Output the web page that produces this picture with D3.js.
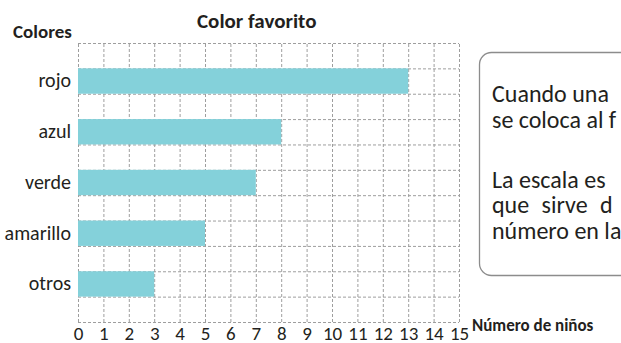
<!DOCTYPE html>
<html>
<head>
<meta charset="utf-8">
<script src="https://cdn.jsdelivr.net/npm/d3@7"></script>
<style>
    body { margin: 0; background: #fff; }
    text { font-family: Carlito, "Liberation Sans Narrow", sans-serif; fill: #231f20; }
    .grid line { stroke: #9e9e9e; stroke-width: 1; stroke-dasharray: 3,2; }
    .grid path { display: none; }
    .bar { fill: #84d1da; }
    .title, .axis-title { font-weight: bold; }
</style>
</head>
<body>
<div id="color-chart"></div>
<script>
// data
var categories = ["rojo", "azul", "verde", "amarillo", "otros"];
var values = [13, 8, 7, 5, 3];
var tickValues = d3.range(0, 16);
var chartTitle = "Color favorito";
var yTitle = "Colores";
var xTitle = "Número de niños";
var noteParagraphs = [
    ["Cuando una", "se coloca al f"],
    ["La escala es", "que sirve d", "número en la"]
];

/**
 * Constructor for the favourite colour chart
 */
function ColorChart(){
    var self = this;
    self.init();
};

/**
 * Creates the svg and the scales
 */
ColorChart.prototype.init = function(){
    var self = this;
    self.margin = {top: 43, right: 162, bottom: 21, left: 78};
    self.svgWidth = 621;
    self.svgHeight = 343;
    self.width = self.svgWidth - self.margin.left - self.margin.right;
    self.height = self.svgHeight - self.margin.top - self.margin.bottom;

    self.svg = d3.select("#color-chart").append("svg")
        .attr("width", self.svgWidth)
        .attr("height", self.svgHeight);

    self.g = self.svg.append("g")
        .attr("transform", "translate(" + self.margin.left + "," + self.margin.top + ")");

    self.x = d3.scaleLinear()
        .domain([0, 15])
        .range([0, self.width]);

    // each bar sits on one grid row, with an empty row between bars
    self.y = d3.scaleBand()
        .domain(categories)
        .range([0, self.height])
        .paddingInner(0.5)
        .paddingOuter(0.5);

    // the grid rows are half a band step each
    self.rows = d3.scaleLinear()
        .domain([0, categories.length * 2 + 1])
        .range([0, self.height]);
};

/**
 * Draws grid, bars, labels and the note box
 */
ColorChart.prototype.update = function(){
    var self = this;

    //dashed grid
    self.g.append("g")
        .attr("class", "grid")
        .attr("transform", "translate(0," + self.height + ")")
        .call(d3.axisBottom(self.x).tickValues(tickValues).tickSize(-self.height).tickFormat(""));

    self.g.append("g")
        .attr("class", "grid")
        .call(d3.axisLeft(self.rows).ticks(categories.length * 2 + 1).tickSize(-self.width).tickFormat(""));

    //bars
    self.g.selectAll(".bar")
        .data(values)
        .enter().append("rect")
        .attr("class", "bar")
        .attr("x", self.x(0))
        .attr("y", function(d, i){ return self.y(categories[i]); })
        .attr("width", function(d){ return self.x(d) - self.x(0); })
        .attr("height", self.y.bandwidth());

    //x tick labels
    var xAxis = self.g.append("g")
        .attr("transform", "translate(0," + self.height + ")")
        .call(d3.axisBottom(self.x).tickValues(tickValues).tickSize(0).tickPadding(5));
    xAxis.select(".domain").remove();
    xAxis.selectAll("text")
        .attr("fill", "#231f20")
        .style("font-size", "19px")
        .style("font-family", "Carlito, sans-serif");

    //category labels
    var yAxis = self.g.append("g")
        .call(d3.axisLeft(self.y).tickSize(0).tickPadding(7));
    yAxis.select(".domain").remove();
    yAxis.selectAll("text")
        .attr("fill", "#231f20")
        .style("font-size", "20px")
        .style("font-family", "Carlito, sans-serif");

    //titles
    self.svg.append("text")
        .attr("class", "title")
        .attr("x", 197)
        .attr("y", 28)
        .style("font-size", "21px")
        .text(chartTitle);

    self.svg.append("text")
        .attr("class", "axis-title")
        .attr("x", 13)
        .attr("y", 38)
        .style("font-size", "19px")
        .text(yTitle);

    self.svg.append("text")
        .attr("class", "axis-title")
        .attr("x", 472)
        .attr("y", 331)
        .style("font-size", "17px")
        .text(xTitle);

    //note box on the right, cut by the edge of the picture
    self.svg.append("rect")
        .attr("x", 479.5)
        .attr("y", 52.5)
        .attr("width", 200)
        .attr("height", 223)
        .attr("rx", 12)
        .attr("fill", "none")
        .attr("stroke", "#8c8c8c")
        .attr("stroke-width", 1.3);

    var lineHeight = 25.5;
    var paraGap = 60;
    var baseline = 102;
    noteParagraphs.forEach(function(par, p){
        if (p > 0) {
            baseline += paraGap - lineHeight;
        }
        par.forEach(function(line){
            self.svg.append("text")
                .attr("x", 492)
                .attr("y", baseline)
                .style("font-size", "24px")
                .style("word-spacing", line == "que sirve d" ? "7px" : "0px")
                .text(line);
            baseline += lineHeight;
        });
    });
};

var chart = new ColorChart();
chart.update();
</script>
</body>
</html>
